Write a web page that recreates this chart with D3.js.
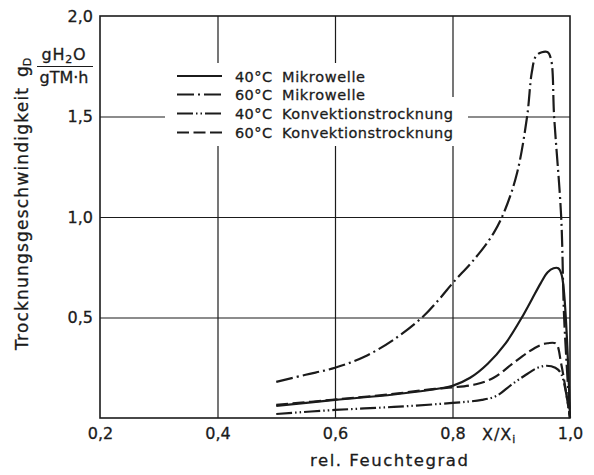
<!DOCTYPE html>
<html>
<head>
<meta charset="utf-8">
<script src="https://cdn.jsdelivr.net/npm/d3@7"></script>
<style>
  html, body { margin: 0; padding: 0; background: #fff; }
  svg { display: block; font-family: "DejaVu Sans", sans-serif; }
  svg text { stroke: #1b1b1b; stroke-width: 0.3px; }
</style>
</head>
<body>
<div id="chart"></div>
<script>
/* ============================================================
   Trocknungsgeschwindigkeit vs. rel. Feuchtegrad
   ============================================================ */

// --- data ---
var xTicks      = [0.2, 0.4, 0.6, 0.8, 1.0];
var xTickLabels = ['0,2', '0,4', '0,6', '0,8', '1,0'];
var yTicks      = [0.5, 1.0, 1.5, 2.0];
var yTickLabels = ['0,5', '1,0', '1,5', '2,0'];

var legendTemps = ['40°C', '60°C', '40°C', '60°C'];
var legendNames = ['Mikrowelle', 'Mikrowelle', 'Konvektionstrocknung', 'Konvektionstrocknung'];

// 40°C Mikrowelle (solid)
var mw40 = [
    [0.50, 0.06], [0.60, 0.09], [0.70, 0.117], [0.78, 0.148], [0.80, 0.16],
    [0.83, 0.20], [0.86, 0.27], [0.89, 0.37], [0.918, 0.50], [0.935, 0.59],
    [0.95, 0.67], [0.962, 0.725], [0.972, 0.745], [0.98, 0.745], [0.986, 0.71],
    [1.0, 0.0]
];
// 60°C Mikrowelle (dash-dot)
var mw60 = [
    [0.50, 0.18], [0.55, 0.215], [0.60, 0.25], [0.65, 0.305], [0.70, 0.39],
    [0.75, 0.505], [0.78, 0.60], [0.80, 0.67], [0.84, 0.80], [0.87, 0.92],
    [0.89, 1.04], [0.91, 1.22], [0.927, 1.50], [0.935, 1.72],
    [0.942, 1.80], [0.952, 1.82], [0.962, 1.82], [0.968, 1.78], [0.973, 1.50],
    [0.985, 1.0], [0.99, 0.5], [1.0, 0.0]
];
// 40°C Konvektionstrocknung (dash-dot-dot)
var kv40 = [
    [0.50, 0.02], [0.60, 0.04], [0.70, 0.055], [0.80, 0.075], [0.85, 0.09],
    [0.875, 0.11], [0.90, 0.165], [0.925, 0.215], [0.945, 0.25], [0.96, 0.26],
    [0.975, 0.25], [0.985, 0.22], [1.0, 0.0]
];
// 60°C Konvektionstrocknung (dashed)
var kv60 = [
    [0.50, 0.065], [0.60, 0.092], [0.70, 0.12], [0.77, 0.145], [0.80, 0.152],
    [0.84, 0.168], [0.87, 0.2], [0.90, 0.265], [0.93, 0.33], [0.95, 0.363],
    [0.962, 0.372], [0.976, 0.37], [0.985, 0.27], [1.0, 0.0]
];

var series = [mw40, mw60, kv40, kv60];
var dashes = ['none', '17,4,2,4', '16,3,1.5,3,1.5,3', '12,4.5'];

// --- layout ---
var W = 594, H = 475;
var M = {top: 16, right: 24, bottom: 57, left: 100};
var IW = W - M.left - M.right;
var IH = H - M.top - M.bottom;
var INK = '#1b1b1b';

var svg = d3.select('#chart').append('svg')
    .attr('width', W)
    .attr('height', H);

var x = d3.scaleLinear().domain([0.2, 1.0]).range([M.left, M.left + IW]);
var y = d3.scaleLinear().domain([0, 2.0]).range([M.top + IH, M.top]);

// Grid
svg.append('g')
    .attr('transform', 'translate(0,' + (M.top + IH) + ')')
    .call(d3.axisBottom(x).tickValues([0.4, 0.6, 0.8]).tickSize(-IH).tickFormat(''))
    .call(function(g) { g.select('.domain').remove(); });
svg.append('g')
    .attr('transform', 'translate(' + M.left + ',0)')
    .call(d3.axisLeft(y).tickValues([0.5, 1.0, 1.5]).tickSize(-IW).tickFormat(''))
    .call(function(g) { g.select('.domain').remove(); });
svg.selectAll('.tick line').attr('stroke', INK).attr('stroke-width', 1.2);

// Legend background knocks out the grid
svg.append('rect').attr('x', 165).attr('y', 63).attr('width', 213).attr('height', 40).attr('fill', '#fff');
svg.append('rect').attr('x', 165).attr('y', 97).attr('width', 303).attr('height', 49).attr('fill', '#fff');

// Frame
svg.append('rect')
    .attr('x', M.left).attr('y', M.top)
    .attr('width', IW).attr('height', IH)
    .attr('fill', 'none')
    .attr('stroke', INK)
    .attr('stroke-width', 1.6);

// Tick labels
svg.append('g')
    .attr('transform', 'translate(0,' + (M.top + IH) + ')')
    .call(d3.axisBottom(x).tickValues(xTicks).tickSize(0).tickPadding(10)
        .tickFormat(function(d, i) { return xTickLabels[i]; }))
    .call(function(g) { g.select('.domain').remove(); })
    .selectAll('text')
    .attr('fill', INK)
    .style('font-size', '16px')
    .style('font-family', '"DejaVu Sans", sans-serif');

svg.append('g')
    .attr('transform', 'translate(' + M.left + ',0)')
    .call(d3.axisLeft(y).tickValues(yTicks).tickSize(0).tickPadding(7)
        .tickFormat(function(d, i) { return yTickLabels[i]; }))
    .call(function(g) { g.select('.domain').remove(); })
    .selectAll('text')
    .attr('fill', INK)
    .style('font-size', '16px')
    .style('font-family', '"DejaVu Sans", sans-serif');

// X/Xi
var xx = svg.append('text').attr('x', 482).attr('y', 440).attr('fill', INK).style('font-size', '16px')
    .attr('letter-spacing', 1);
xx.append('tspan').text('X/X');
xx.append('tspan').attr('dy', 3).style('font-size', '11px').text('i');

// X title
svg.append('text')
    .attr('x', 310).attr('y', 466)
    .attr('textLength', 158).attr('lengthAdjust', 'spacing')
    .attr('fill', INK).style('font-size', '16.5px')
    .text('rel. Feuchtegrad');

// Y title (rotated)
svg.append('text')
    .attr('transform', 'translate(28,350) rotate(-90)')
    .attr('textLength', 262).attr('lengthAdjust', 'spacing')
    .attr('fill', INK).style('font-size', '17px')
    .text('Trocknungsgeschwindigkeit');
var gd = svg.append('text')
    .attr('transform', 'translate(28,77) rotate(-90)')
    .attr('fill', INK).style('font-size', '17px');
gd.append('tspan').text('g');
gd.append('tspan').attr('dy', 3).style('font-size', '11px').text('D');

// Unit fraction
var num = svg.append('text').attr('x', 64).attr('y', 60).attr('text-anchor', 'middle')
    .attr('fill', INK).style('font-size', '16px').attr('letter-spacing', 0.8);
num.append('tspan').text('gH');
num.append('tspan').attr('dy', 3).style('font-size', '11px').text('2');
num.append('tspan').attr('dy', -3).text('O');
svg.append('line').attr('x1', 37).attr('x2', 93).attr('y1', 66.5).attr('y2', 66.5)
    .attr('stroke', INK).attr('stroke-width', 1.2);
svg.append('text').attr('x', 64).attr('y', 83).attr('text-anchor', 'middle')
    .attr('fill', INK).style('font-size', '16px')
    .text('gTM·h');

// Curves
var line = d3.line()
    .x(function(d) { return x(d[0]); })
    .y(function(d) { return y(d[1]); })
    .curve(d3.curveCatmullRom.alpha(0.5));

series.forEach(function(s, i) {
    svg.append('path')
        .datum(s)
        .attr('fill', 'none')
        .attr('stroke', INK)
        .attr('stroke-width', 2.2)
        .attr('stroke-dasharray', dashes[i])
        .attr('stroke-linejoin', 'round')
        .attr('d', line);
});

// Legend
var rowY = [76, 94.5, 113.5, 132.5];
legendNames.forEach(function(name, i) {
    svg.append('line')
        .attr('x1', 177).attr('x2', 222)
        .attr('y1', rowY[i]).attr('y2', rowY[i])
        .attr('stroke', INK)
        .attr('stroke-width', 2.2)
        .attr('stroke-dasharray', dashes[i]);
    svg.append('text')
        .attr('x', 235).attr('y', rowY[i] + 5.5)
        .attr('textLength', 37).attr('lengthAdjust', 'spacing')
        .attr('fill', INK).style('font-size', '14.5px')
        .text(legendTemps[i]);
    svg.append('text')
        .attr('x', 282).attr('y', rowY[i] + 5.5)
        .attr('textLength', name.length > 12 ? 171 : 83).attr('lengthAdjust', 'spacing')
        .attr('fill', INK).style('font-size', '14.5px')
        .text(name);
});
</script>
</body>
</html>
